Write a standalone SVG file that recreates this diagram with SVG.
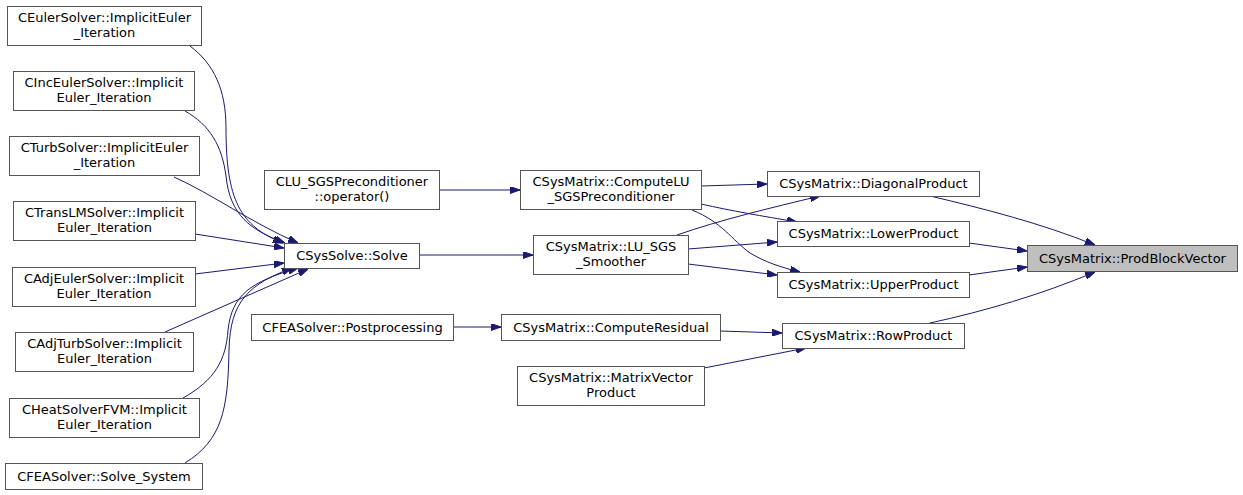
<svg xmlns="http://www.w3.org/2000/svg" width="1243" height="495" viewBox="0 0 1243 495">
<style>
.n rect{fill:#ffffff;stroke:#555555;stroke-width:1}
.n.hl rect{fill:#bfbfbf}
.n text{font-family:"DejaVu Sans",sans-serif;font-size:13px;fill:#000;text-anchor:middle}
.e path{fill:none;stroke:#191970;stroke-width:1;marker-end:url(#ah)}
</style>
<defs>
<marker id="ah" viewBox="0 0 10 7" refX="10" refY="3.5" markerWidth="10" markerHeight="7" markerUnits="userSpaceOnUse" orient="auto">
<path d="M0,0 L10,3.5 L0,7 z" fill="#191970" stroke="#191970" stroke-width="1"/>
</marker>
</defs>
<rect width="1243" height="495" fill="#ffffff"/>
<g id="edges" class="e">
<path d="M190,46 C214,64 226,90 226,128 C226,200 240,226 283,243"/>
<path d="M185,111 C210,125 222,146 226,176 C230,215 250,230 285,243"/>
<path d="M174,177 C212,194 250,222 298,243"/>
<path d="M195,234 L284,248"/>
<path d="M195,274 L284,263"/>
<path d="M165,332 L308,269"/>
<path d="M183,398 C215,380 226,360 228,330 C232,295 250,282 298,268"/>
<path d="M185,463 C222,440 228,410 229,350 C230,300 250,284 292,268"/>
<path d="M439,190 L520,190"/>
<path d="M419,255 L533,255"/>
<path d="M453,327 L501,327"/>
<path d="M701,186 L767,184"/>
<path d="M701,204 C732,211 762,216 797,222"/>
<path d="M692,210 C722,222 732,240 750,253 C765,262 780,267 800,272"/>
<path d="M677,235 C720,220 770,208 820,196"/>
<path d="M688,249 L777,242"/>
<path d="M688,264 L777,275"/>
<path d="M720,331 L782,333"/>
<path d="M704,368 L806,348"/>
<path d="M930,196 C985,209 1040,223 1095,245"/>
<path d="M969,243 L1027,251"/>
<path d="M969,275 L1027,267"/>
<path d="M930,323 C985,311 1040,295 1095,272"/>
</g>
<g id="n1" class="n"><rect x="7.5" y="6.5" width="194" height="39"/><text x="104.5" y="22">CEulerSolver::ImplicitEuler</text><text x="104.5" y="37">_Iteration</text></g>
<g id="n2" class="n"><rect x="13.5" y="71.5" width="181" height="39"/><text x="104" y="87">CIncEulerSolver::Implicit</text><text x="104" y="102">Euler_Iteration</text></g>
<g id="n3" class="n"><rect x="9.5" y="136.5" width="190" height="39"/><text x="104.5" y="152">CTurbSolver::ImplicitEuler</text><text x="104.5" y="167">_Iteration</text></g>
<g id="n4" class="n"><rect x="13.5" y="201.5" width="182" height="39"/><text x="104.5" y="217">CTransLMSolver::Implicit</text><text x="104.5" y="232">Euler_Iteration</text></g>
<g id="n5" class="n"><rect x="12.5" y="267.5" width="183" height="39"/><text x="104" y="283">CAdjEulerSolver::Implicit</text><text x="104" y="298">Euler_Iteration</text></g>
<g id="n6" class="n"><rect x="15.5" y="332.5" width="178" height="39"/><text x="104.5" y="348">CAdjTurbSolver::Implicit</text><text x="104.5" y="363">Euler_Iteration</text></g>
<g id="n7" class="n"><rect x="9.5" y="398.5" width="190" height="39"/><text x="104.5" y="414">CHeatSolverFVM::Implicit</text><text x="104.5" y="429">Euler_Iteration</text></g>
<g id="n8" class="n"><rect x="5.5" y="463.5" width="197" height="26"/><text x="104" y="481">CFEASolver::Solve_System</text></g>
<g id="n9" class="n"><rect x="264.5" y="170.5" width="175" height="39"/><text x="352" y="186">CLU_SGSPreconditioner</text><text x="352" y="201">::operator()</text></g>
<g id="n10" class="n"><rect x="284.5" y="243.5" width="135" height="25"/><text x="352" y="260">CSysSolve::Solve</text></g>
<g id="n11" class="n"><rect x="251.5" y="314.5" width="202" height="26"/><text x="352.5" y="332">CFEASolver::Postprocessing</text></g>
<g id="n12" class="n"><rect x="520.5" y="170.5" width="181" height="39"/><text x="611" y="186">CSysMatrix::ComputeLU</text><text x="611" y="201">_SGSPreconditioner</text></g>
<g id="n13" class="n"><rect x="533.5" y="235.5" width="155" height="39"/><text x="611" y="251">CSysMatrix::LU_SGS</text><text x="611" y="266">_Smoother</text></g>
<g id="n14" class="n"><rect x="501.5" y="314.5" width="219" height="26"/><text x="611" y="332">CSysMatrix::ComputeResidual</text></g>
<g id="n15" class="n"><rect x="517.5" y="366.5" width="187" height="39"/><text x="611" y="382">CSysMatrix::MatrixVector</text><text x="611" y="397">Product</text></g>
<g id="n16" class="n"><rect x="767.5" y="171.5" width="212" height="25"/><text x="873.5" y="188">CSysMatrix::DiagonalProduct</text></g>
<g id="n17" class="n"><rect x="777.5" y="221.5" width="192" height="25"/><text x="873.5" y="238">CSysMatrix::LowerProduct</text></g>
<g id="n18" class="n"><rect x="777.5" y="272.5" width="192" height="25"/><text x="873.5" y="289">CSysMatrix::UpperProduct</text></g>
<g id="n19" class="n"><rect x="782.5" y="323.5" width="182" height="25"/><text x="873.5" y="340">CSysMatrix::RowProduct</text></g>
<g id="n20" class="n hl"><rect x="1027.5" y="245.5" width="210" height="26"/><text x="1132.5" y="263">CSysMatrix::ProdBlockVector</text></g>
</svg>
